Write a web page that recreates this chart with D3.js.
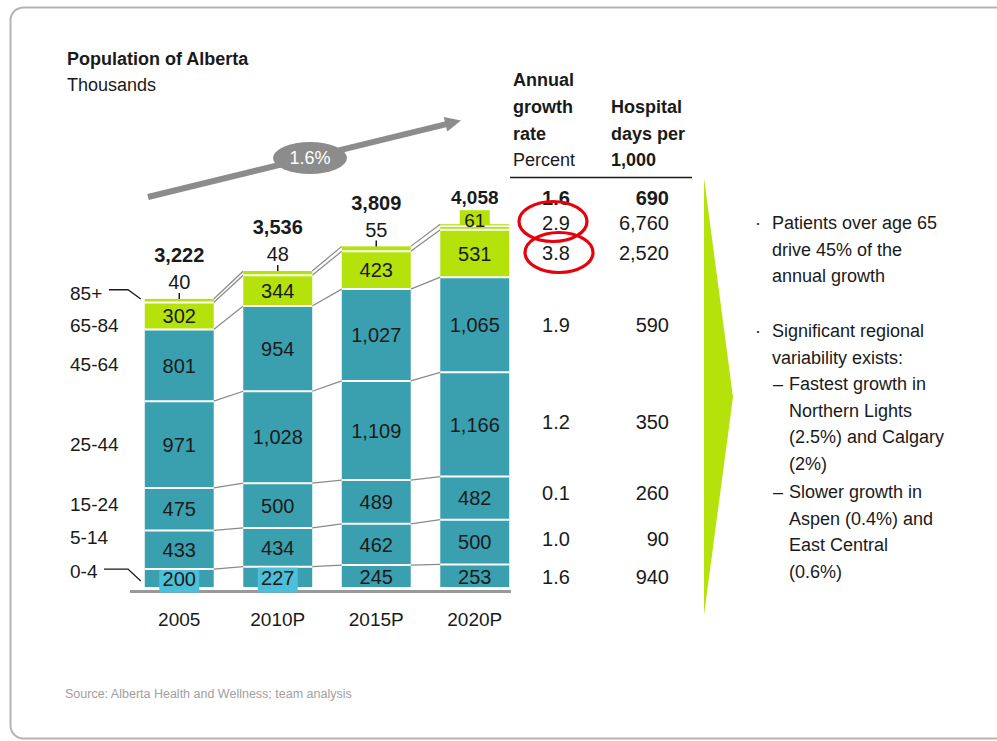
<!DOCTYPE html>
<html><head><meta charset="utf-8">
<script src="https://cdn.jsdelivr.net/npm/d3@7"></script>
<style>
body{margin:0;background:#fff;}
svg{display:block;font-family:"Liberation Sans",Arial,sans-serif;}
</style></head>
<body>
<svg id="chart" width="997" height="741"></svg>
<script>
// ---- data ----
const years = ["2005","2010P","2015P","2020P"];
const ageGroups = ["0-4","5-14","15-24","25-44","45-64","65-84","85+"];
const pop0_4   = [200, 227, 245, 253];
const pop5_14  = [433, 434, 462, 500];
const pop15_24 = [475, 500, 489, 482];
const pop25_44 = [971, 1028, 1109, 1166];
const pop45_64 = [801, 954, 1027, 1065];
const pop65_84 = [302, 344, 423, 531];
const pop85    = [40, 48, 55, 61];
const totalLabels = ["3,222","3,536","3,809","4,058"];
const growthTotal = 1.6, daysTotal = 690;
const growthByAge = [1.6, 1.0, 0.1, 1.2, 1.9, 3.8, 2.9];   // same order as ageGroups
const daysByAge   = [940, 90, 260, 350, 590, 2520, 6760];
const trendLabel = "1.6%";
const bullet1 = ["Patients over age 65","drive 45% of the","annual growth"];
const bullet2 = ["Significant regional","variability exists:"];
const sub1 = ["Fastest growth in","Northern Lights","(2.5%) and Calgary","(2%)"];
const sub2 = ["Slower growth in","Aspen (0.4%) and","East Central","(0.6%)"];

// ---- build ----
const series = [pop0_4,pop5_14,pop15_24,pop25_44,pop45_64,pop65_84,pop85];
const rows = years.map((yr,i)=>{const r={year:yr}; ageGroups.forEach((g,k)=>r[g]=series[k][i]); return r;});
const stacked = d3.stack().keys(ageGroups)(rows);

const TEAL="#3aa0b0", GREEN="#b5e20a", CYAN="#4cc0d8", GRAY="#8c8c8c", TXT="#1a1a1a";
const colorOf = g => (g==="65-84"||g==="85+") ? GREEN : TEAL;

const svg = d3.select("#chart");
// frame
svg.append("rect").attr("x",10.5).attr("y",7.5).attr("width",1020).attr("height",731)
  .attr("rx",13).attr("fill","none").attr("stroke","#b4b4b4").attr("stroke-width",2);

const x = d3.scaleBand().domain(years).range([130,524]).paddingInner(0.3).paddingOuter(0.15);
const y = d3.scaleLinear().domain([0,4000]).range([587,229.4]);
const bw = x.bandwidth();

// title
svg.append("text").attr("x",67).attr("y",65).attr("font-size",18).attr("font-weight","bold").attr("fill",TXT).text("Population of Alberta");
svg.append("text").attr("x",67).attr("y",91).attr("font-size",18).attr("fill",TXT).text("Thousands");

// connectors
const gConn = svg.append("g");
stacked.forEach(s=>{
  for(let i=0;i<years.length-1;i++){
    gConn.append("line")
      .attr("x1",x(years[i])+bw).attr("y1",y(s[i][1]))
      .attr("x2",x(years[i+1])).attr("y2",y(s[i+1][1]))
      .attr("stroke","#8a8a8a").attr("stroke-width",1.2);
  }
});

// bars
stacked.forEach(s=>{
  svg.append("g").selectAll("rect").data(s).join("rect")
    .attr("x",d=>x(d.data.year)).attr("width",bw)
    .attr("y",d=>y(d[1])).attr("height",d=>y(d[0])-y(d[1]))
    .attr("fill",colorOf(s.key));
});
// white separators
stacked.forEach((s,k)=>{
  if(k===stacked.length-1) return;
  svg.append("g").selectAll("line").data(s).join("line")
    .attr("x1",d=>x(d.data.year)).attr("x2",d=>x(d.data.year)+bw)
    .attr("y1",d=>y(d[1])).attr("y2",d=>y(d[1]))
    .attr("stroke","#fff").attr("stroke-width",2);
});

// axis baseline
svg.append("line").attr("x1",130).attr("x2",511).attr("y1",591.5).attr("y2",591.5)
  .attr("stroke","#999").attr("stroke-width",3);

// highlight boxes for 0-4 (2005, 2010P)
const s04 = stacked[0];
[0,1].forEach(i=>{
  svg.append("rect").attr("x",x(years[i])+bw/2-20).attr("width",40)
    .attr("y",y(s04[i][1])+1).attr("height",592.5-y(s04[i][1])-1).attr("fill",CYAN);
});

// segment labels (excluding 85+)
stacked.forEach((s,k)=>{
  if(s.key==="85+") return;
  svg.append("g").selectAll("text").data(s).join("text")
    .attr("x",d=>x(d.data.year)+bw/2)
    .attr("y",d=>(y(d[0])+y(d[1]))/2 + (s.key==="0-4"?1:0))
    .attr("dy","0.36em").attr("text-anchor","middle").attr("font-size",20).attr("fill",TXT)
    .text(d=>d3.format(",")(d[1]-d[0]));
});

// 85+ labels and totals
const s85 = stacked[6];
s85.forEach((d,i)=>{
  const cx = x(years[i])+bw/2, top = y(d[1]);
  if(i===years.length-1){
    svg.append("rect").attr("x",cx-15).attr("width",30).attr("y",top-14).attr("height",16).attr("fill",GREEN);
    svg.append("line").attr("x1",x(years[i])).attr("x2",x(years[i])+bw).attr("y1",top+2).attr("y2",top+2).attr("stroke","#fff").attr("stroke-width",1.5);
    svg.append("text").attr("x",cx).attr("y",top-4).attr("dy","0.36em").attr("text-anchor","middle").attr("font-size",19).attr("fill",TXT).text(pop85[i]);
    svg.append("text").attr("x",cx).attr("y",top-27).attr("dy","0.36em").attr("text-anchor","middle").attr("font-size",19).attr("font-weight","bold").attr("fill",TXT).text(totalLabels[i]);
  } else {
    svg.append("line").attr("x1",cx).attr("x2",cx).attr("y1",top-6).attr("y2",top).attr("stroke",TXT).attr("stroke-width",1.5);
    svg.append("text").attr("x",cx).attr("y",top-17).attr("dy","0.36em").attr("text-anchor","middle").attr("font-size",20).attr("fill",TXT).text(pop85[i]);
    svg.append("text").attr("x",cx).attr("y",top-44).attr("dy","0.36em").attr("text-anchor","middle").attr("font-size",20).attr("font-weight","bold").attr("fill",TXT).text(totalLabels[i]);
  }
});

// year axis labels
svg.append("g").selectAll("text").data(years).join("text")
  .attr("x",d=>x(d)+bw/2).attr("y",619).attr("dy","0.36em").attr("text-anchor","middle")
  .attr("font-size",19).attr("fill",TXT).text(d=>d);

// left category labels (positioned from 2005 segments)
const nudge = {"0-4":-7,"5-14":-13,"15-24":-5,"25-44":0,"45-64":-1,"65-84":9,"85+":-8};
stacked.forEach(s=>{
  const d=s[0]; const cy=(y(d[0])+y(d[1]))/2 + nudge[s.key];
  svg.append("text").attr("x",70).attr("y",cy).attr("dy","0.36em").attr("font-size",19).attr("fill",TXT).text(s.key);
});
// leader lines
{
  const x0 = x(years[0]);
  const t85 = y(s85[0][1]);
  const c85 = (y(s85[0][0])+t85)/2 + nudge["85+"];
  svg.append("path").attr("d",`M${109},${c85-3}H${128}L${x0-4},${t85}`).attr("fill","none").attr("stroke",TXT).attr("stroke-width",1.3);
  const c04 = (y(s04[0][0])+y(s04[0][1]))/2 + nudge["0-4"];
  svg.append("path").attr("d",`M${104},${c04-2}H${128}L${x0-4},${c04+10}`).attr("fill","none").attr("stroke",TXT).attr("stroke-width",1.3);
}

// trend arrow
{
  const p0=[148,197], tip=[461,120.5];
  const dx=tip[0]-p0[0], dy=tip[1]-p0[1], L=Math.hypot(dx,dy), ux=dx/L, uy=dy/L, nx=-uy, ny=ux;
  const base=[tip[0]-16*ux, tip[1]-16*uy];
  svg.append("line").attr("x1",p0[0]).attr("y1",p0[1]).attr("x2",base[0]+2*ux).attr("y2",base[1]+2*uy)
    .attr("stroke",GRAY).attr("stroke-width",6);
  svg.append("polygon").attr("points",[[base[0]+7.5*nx,base[1]+7.5*ny],tip,[base[0]-7.5*nx,base[1]-7.5*ny]].map(p=>p.join(",")).join(" ")).attr("fill",GRAY);
  svg.append("ellipse").attr("cx",310).attr("cy",158).attr("rx",37).attr("ry",16).attr("fill",GRAY);
  svg.append("text").attr("x",310).attr("y",158).attr("dy","0.36em").attr("text-anchor","middle").attr("font-size",18).attr("fill","#fff").text(trendLabel);
}

// table headers
const hdr = svg.append("g").attr("font-size",18).attr("fill",TXT);
[["Annual",79.5,true],["growth",106.5,true],["rate",133.5,true],["Percent",160,false]].forEach(([t,yy,b])=>
  hdr.append("text").attr("x",513).attr("y",yy).attr("dy","0.36em").attr("font-weight",b?"bold":"normal").text(t));
[["Hospital",106.5],["days per",133.5],["1,000",160]].forEach(([t,yy])=>
  hdr.append("text").attr("x",611).attr("y",yy).attr("dy","0.36em").attr("font-weight","bold").text(t));
svg.append("line").attr("x1",510).attr("x2",692).attr("y1",177.5).attr("y2",177.5).attr("stroke",TXT).attr("stroke-width",1.5);

// table rows aligned to 2020 segments
const last = years.length-1;
const rowNudge = {"0-4":1,"5-14":-3,"15-24":-5,"25-44":-3,"45-64":0,"65-84":-1,"85+":-4};
const tbl = svg.append("g").attr("font-size",20).attr("fill",TXT);
stacked.forEach((s,k)=>{
  const d=s[last];
  let cy=(y(d[0])+y(d[1]))/2 + rowNudge[s.key];
  tbl.append("text").attr("x",556).attr("y",cy).attr("dy","0.36em").attr("text-anchor","middle").text(growthByAge[k].toFixed(1));
  tbl.append("text").attr("x",669).attr("y",cy).attr("dy","0.36em").attr("text-anchor","end").text(d3.format(",")(daysByAge[k]));
});
{
  const cy = y(s85[last][1]) - 26;
  tbl.append("text").attr("x",556).attr("y",cy).attr("dy","0.36em").attr("text-anchor","middle").attr("font-weight","bold").text(growthTotal.toFixed(1));
  tbl.append("text").attr("x",669).attr("y",cy).attr("dy","0.36em").attr("text-anchor","end").attr("font-weight","bold").text(d3.format(",")(daysTotal));
}
// red circles around 85+ and 65-84 growth rates
svg.append("ellipse").attr("cx",553).attr("cy",221.5).attr("rx",34).attr("ry",20).attr("fill","none").attr("stroke","#e8000b").attr("stroke-width",3.2);
svg.append("ellipse").attr("cx",559).attr("cy",252.5).attr("rx",34).attr("ry",20).attr("fill","none").attr("stroke","#e8000b").attr("stroke-width",3.2);

// chevron
svg.append("polygon").attr("points","704,178 733,397 704,615").attr("fill",GREEN);

// bullets
const bg = svg.append("g").attr("font-size",18).attr("fill",TXT);
function block(lines, y0, tx, marker, mx){
  lines.forEach((t,i)=>bg.append("text").attr("x",tx).attr("y",y0+i*26.5).attr("dy","0.36em").text(t));
  bg.append("text").attr("x",mx).attr("y",y0).attr("dy","0.36em").text(marker);
}
block(bullet1,223,772,"·",755);
block(bullet2,331,772,"·",755);
block(sub1,384,789,"–",773);
block(sub2,492,789,"–",773);

// source
svg.append("text").attr("x",65).attr("y",693).attr("dy","0.36em")
  .attr("font-family","'Liberation Sans Narrow','Liberation Sans',Arial,sans-serif")
  .attr("font-size",12.5).attr("fill","#a0a0a0").text("Source: Alberta Health and Wellness; team analysis");
</script>
</body></html>
